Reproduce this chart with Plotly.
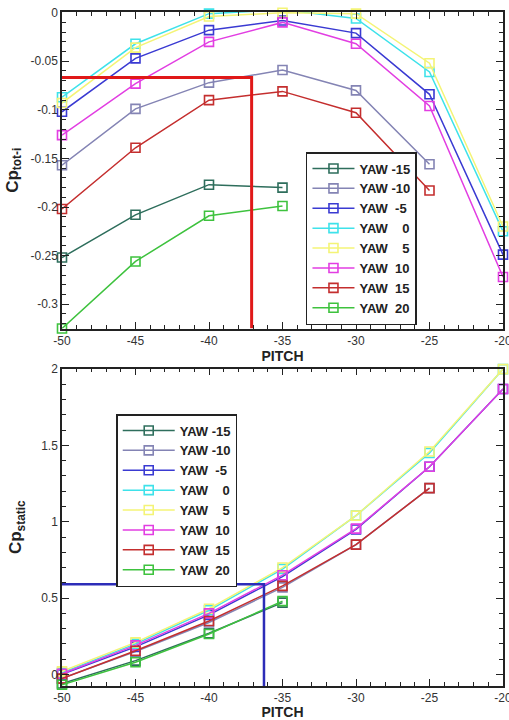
import plotly.graph_objects as go
from plotly.subplots import make_subplots

pitch = [-50, -45, -40, -35, -30, -25, -20]
yaw_names = ["YAW -15", "YAW -10", "YAW\u00a0\u00a0-5", "YAW\u00a0\u00a0\u00a0\u00a00",
             "YAW\u00a0\u00a0\u00a0\u00a05", "YAW\u00a0\u00a010", "YAW\u00a0\u00a015", "YAW\u00a0\u00a020"]
colors = ["#2E6E5C", "#8484B4", "#3A3AD2", "#3EE2EA", "#F4F476", "#E23EE2", "#C42E2E", "#3EC23E"]

# Top chart: Cp tot-i
cp_tot_m15 = [-0.252, -0.208, -0.177, -0.180]
cp_tot_m10 = [-0.157, -0.099, -0.072, -0.059, -0.080, -0.156]
cp_tot_m5 = [-0.102, -0.047, -0.018, -0.008, -0.021, -0.084, -0.249]
cp_tot_0 = [-0.087, -0.032, -0.001, 0.003, -0.006, -0.061, -0.225]
cp_tot_5 = [-0.093, -0.036, -0.004, 0.000, -0.001, -0.052, -0.220]
cp_tot_10 = [-0.126, -0.073, -0.030, -0.010, -0.032, -0.096, -0.272]
cp_tot_15 = [-0.202, -0.139, -0.090, -0.081, -0.103, -0.183]
cp_tot_20 = [-0.325, -0.256, -0.209, -0.199]

# Bottom chart: Cp static
cp_st_m15 = [-0.060, 0.090, 0.270, 0.470]
cp_st_m10 = [-0.025, 0.150, 0.340, 0.570, 0.850, 1.220]
cp_st_m5 = [0.000, 0.180, 0.390, 0.640, 0.950, 1.360, 1.870]
cp_st_0 = [0.010, 0.200, 0.420, 0.690, 1.040, 1.450, 2.000]
cp_st_5 = [0.020, 0.210, 0.430, 0.700, 1.040, 1.460, 2.000]
cp_st_10 = [0.004, 0.190, 0.400, 0.650, 0.955, 1.360, 1.870]
cp_st_15 = [-0.028, 0.155, 0.350, 0.580, 0.850, 1.220]
cp_st_20 = [-0.068, 0.080, 0.265, 0.480]

top_series = [cp_tot_m15, cp_tot_m10, cp_tot_m5, cp_tot_0, cp_tot_5, cp_tot_10, cp_tot_15, cp_tot_20]
bot_series = [cp_st_m15, cp_st_m10, cp_st_m5, cp_st_0, cp_st_5, cp_st_10, cp_st_15, cp_st_20]

# guide lines
top_guide_x = [-50, -37.1, -37.1]
top_guide_y = [-0.0667, -0.0667, -0.325]
bot_guide_x = [-50, -36.26, -36.26]
bot_guide_y = [0.59, 0.59, -0.076]

top_yticks = [0, -0.05, -0.1, -0.15, -0.2, -0.25, -0.3]
top_yticktext = ["0", "-0.05", "-0.1", "-0.15", "-0.2", "-0.25", "-0.3"]
bot_yticks = [0, 0.5, 1, 1.5, 2]
bot_yticktext = ["0", "0.5", "1", "1.5", "2"]
xticks = [-50, -45, -40, -35, -30, -25, -20]
xticktext = ["-50", "-45", "-40", "-35", "-30", "-25", "-20"]

H = 720
W = 509
mt, mb, ml, mr = 12, 34, 61.7, 5.7
ph = H - mt - mb
pw = W - ml - mr


def py(px):
    return 1 - (px - mt) / ph


def pxx(px):
    return (px - ml) / pw


fig = make_subplots(rows=2, cols=1, vertical_spacing=0.06)

for i, (name, col) in enumerate(zip(yaw_names, colors)):
    ys = top_series[i]
    fig.add_trace(go.Scatter(
        x=pitch[:len(ys)], y=ys, name=name, mode="lines+markers",
        line=dict(color=col, width=1.5),
        marker=dict(symbol="square-open", size=9, color=col, line=dict(width=1.6, color=col)),
        cliponaxis=False, legend="legend"), row=1, col=1)

for i, (name, col) in enumerate(zip(yaw_names, colors)):
    ys = bot_series[i]
    fig.add_trace(go.Scatter(
        x=pitch[:len(ys)], y=ys, name=name, mode="lines+markers",
        line=dict(color=col, width=1.5),
        marker=dict(symbol="square-open", size=9, color=col, line=dict(width=1.6, color=col)),
        cliponaxis=False, legend="legend2"), row=2, col=1)

fig.add_trace(go.Scatter(x=top_guide_x, y=top_guide_y, mode="lines",
                         line=dict(color="#E01818", width=3), showlegend=False,
                         hoverinfo="skip"), row=1, col=1)
fig.add_trace(go.Scatter(x=bot_guide_x, y=bot_guide_y, mode="lines",
                         line=dict(color="#2C2CB8", width=2.5), showlegend=False,
                         hoverinfo="skip"), row=2, col=1)

tickfont = dict(family="Liberation Sans, Arial", size=12, color="#333333")
axis_common = dict(showline=True, linecolor="#222222", linewidth=1.5, mirror="allticks",
                   ticks="inside", ticklen=7, tickwidth=1.2, tickcolor="#222222",
                   showgrid=False, zeroline=False, tickfont=tickfont, automargin=False)

fig.update_xaxes(range=[-50, -20], tickvals=xticks, ticktext=xticktext, ticklabeloverflow="allow",
                 minor=dict(ticks="inside", dtick=1, ticklen=4, tickcolor="#222222", showgrid=False),
                 title=dict(text="<b>PITCH</b>", font=dict(family="Liberation Sans, Arial", size=14, color="#222222"),
                            standoff=2),
                 **axis_common)

fig.update_yaxes(range=[-0.325, 0.0007], tickvals=top_yticks, ticktext=top_yticktext,
                 minor=dict(ticks="inside", tickvals=[round(-0.01 * k, 2) for k in range(0, 33)],
                            ticklen=4, tickcolor="#222222", showgrid=False),
                 title=dict(text="<b>Cp<sub>tot-i</sub></b>",
                            font=dict(family="Liberation Sans, Arial", size=17, color="#222222"), standoff=8),
                 row=1, col=1, **axis_common)
fig.update_yaxes(range=[-0.076, 2.004], tickvals=bot_yticks, ticktext=bot_yticktext,
                 minor=dict(ticks="inside", dtick=0.1, ticklen=4, tickcolor="#222222", showgrid=False),
                 title=dict(text="<b>Cp<sub>static</sub></b>",
                            font=dict(family="Liberation Sans, Arial", size=17, color="#222222"), standoff=15),
                 row=2, col=1, **axis_common)

legfont = dict(family="Liberation Sans, Arial", size=13, color="#222222", weight="bold")
fig.update_layout(
    width=W, height=H,
    margin=dict(l=ml, r=mr, t=mt, b=mb),
    paper_bgcolor="white", plot_bgcolor="white",
    yaxis=dict(domain=[py(328.5), 1.0]),
    yaxis2=dict(domain=[0.0, py(368.5)]),
    legend=dict(x=pxx(306), y=py(325), xanchor="left", yanchor="bottom", itemwidth=42,
                bgcolor="white", bordercolor="#222222", borderwidth=1.5, font=legfont),
    legend2=dict(x=pxx(116), y=py(414), xanchor="left", yanchor="top", itemwidth=52,
                 bgcolor="white", bordercolor="#222222", borderwidth=1.5, font=legfont),
    showlegend=True,
)

fig.write_html("out.html")
